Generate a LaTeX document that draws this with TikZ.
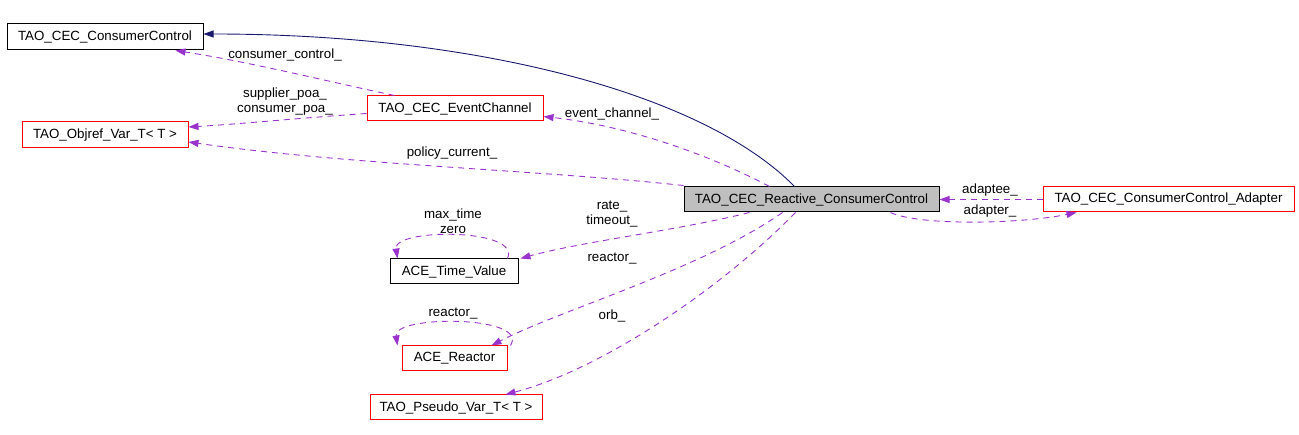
\documentclass[tikz,border=0pt]{standalone}
\usepackage{fontspec}
\setmainfont{Liberation Sans}
\usetikzlibrary{arrows.meta,calc}
\definecolor{edgepurple}{HTML}{9A32CD}
\definecolor{edgenavy}{HTML}{191970}
\definecolor{boxgray}{HTML}{BFBFBF}
\begin{document}
\begin{tikzpicture}[x=1pt,y=-1pt,
  cls/.style={draw=black,line width=1pt,rectangle,inner sep=0pt,font=\fontsize{13.33}{15}\selectfont},
  redcls/.style={cls,draw=red},
  maincls/.style={cls,fill=boxgray},
  member/.style={draw=edgepurple,line width=0.9pt,dash pattern=on 6pt off 5pt,-{Triangle[length=10pt,width=7pt,fill=edgepurple]}},
  inherit/.style={draw=edgenavy,line width=0.9pt,-{Triangle[length=10pt,width=7pt,fill=edgenavy]}},
  lbl/.style={font=\fontsize{13.33}{15}\selectfont,inner sep=0pt,align=center}]
\useasboundingbox (0,0) rectangle (1299,435);
% nodes
\node[cls,minimum width=196pt,minimum height=26pt] (cc) at (105,37) {TAO\_CEC\_ConsumerControl};
\node[redcls,minimum width=176pt,minimum height=25pt] (ec) at (455,108.5) {TAO\_CEC\_EventChannel};
\node[redcls,minimum width=166pt,minimum height=26pt] (ov) at (105,135) {TAO\_Objref\_Var\_T< T >};
\node[maincls,minimum width=255pt,minimum height=25pt] (rc) at (811.5,199.5) {TAO\_CEC\_Reactive\_ConsumerControl};
\node[redcls,minimum width=251pt,minimum height=25pt] (ad) at (1168.5,199.5) {TAO\_CEC\_ConsumerControl\_Adapter};
\node[cls,minimum width=128pt,minimum height=25pt] (tv) at (454,271.5) {ACE\_Time\_Value};
\node[redcls,minimum width=105pt,minimum height=25pt] (ar) at (454.5,358.5) {ACE\_Reactor};
\node[redcls,minimum width=172pt,minimum height=25pt] (pv) at (456,407.5) {TAO\_Pseudo\_Var\_T< T >};
% inheritance
\draw[inherit] ($(rc.north west)+(111,0)$) .. controls (705,95) and (480,34) .. ($(cc.east)+(0,-3)$);
% members
\draw[member] ($(ec.north west)+(28,0)$) .. controls (330,82) and (250,62) .. ($(cc.south east)+(-28,0)$);
\node[lbl] (l1) at (285,55) {consumer\_control\_};
\draw[member] ($(ec.west)+(0,5)$) .. controls (300,118) and (240,124) .. ($(ov.east)+(0,-8)$);
\node[lbl] (l2) at (285,102) {supplier\_poa\_\\consumer\_poa\_};
\draw[member] ($(rc.north west)+(86,0)$) .. controls (700,150) and (620,125) .. ($(ec.east)+(0,8)$);
\node[lbl] (l3) at (612,114) {event\_channel\_};
\draw[member] ($(rc.north west)+(0,-1)$) .. controls (540,170) and (350,165) .. ($(ov.east)+(0,7)$);
\node[lbl] (l4) at (452,153) {policy\_current\_};
\draw[member] (ad.west) -- (rc.east);
\node[lbl] (l5) at (990,190) {adaptee\_};
\draw[member] ($(rc.south east)+(-49,0)$) .. controls (920,226) and (1020,224) .. ($(ad.south west)+(34,0)$);
\node[lbl] (l6) at (990,211) {adapter\_};
\draw[member] ($(rc.south west)+(66,0)$) .. controls (680,230) and (580,242) .. ($(tv.north east)+(2,0)$);
\node[lbl] (l7) at (612,214) {rate\_\\timeout\_};
\draw[member] ($(rc.south west)+(99,0)$) .. controls (700,270) and (560,310) .. ($(ar.north east)+(-16,0)$);
\node[lbl] (l8) at (612,259) {reactor\_};
\draw[member] ($(rc.south west)+(112,0)$) .. controls (720,290) and (600,370) .. ($(pv.north east)+(-37,0)$);
\node[lbl] (l9) at (612,316) {orb\_};
% self loops
\draw[member] ($(tv.north east)+(-11,0)$) .. controls (522,228) and (393,228) .. ($(tv.north west)+(8,0)$);
\node[lbl] (l10) at (453,221) {max\_time\\zero};
\draw[member] ($(ar.north east)+(3,0)$) .. controls (530,315) and (393,315) .. ($(ar.north west)+(-4,0)$);
\node[lbl] (l11) at (453,314) {reactor\_};
\end{tikzpicture}
\end{document}
